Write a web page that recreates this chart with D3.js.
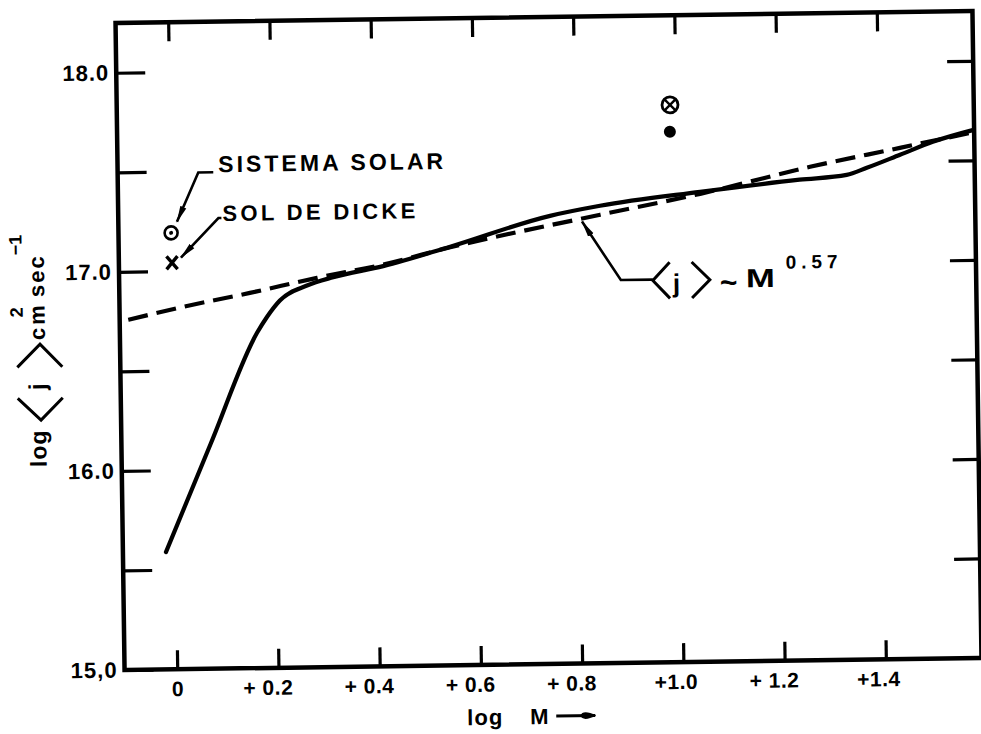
<!DOCTYPE html>
<html>
<head>
<meta charset="utf-8">
<script src="https://cdn.jsdelivr.net/npm/d3@7/dist/d3.min.js"></script>
<style>
  html, body { margin: 0; padding: 0; background: #fff; }
  svg { display: block; }
  text { font-family: "Liberation Sans", Arial, sans-serif; font-weight: 700; fill: #000; }
</style>
</head>
<body>
<svg id="chart" width="981" height="734"></svg>
<script>
// ---------------- data ----------------
const xDomain = [-0.104, 1.589];          // log M
const yDomain = [15, 18.25];              // log <j>
const xTicks = [0, 0.2, 0.4, 0.6, 0.8, 1.0, 1.2, 1.4];
const xTickLabels = ["0", "+ 0.2", "+ 0.4", "+ 0.6", "+ 0.8", "+1.0", "+ 1.2", "+1.4"];
const yTicks = [15, 15.5, 16, 16.5, 17, 17.5, 18];
const yTickLabels = ["15,0", "", "16.0", "", "17.0", "", "18.0"];

// solid curve (computed <j>)
const solidLogM = [-0.019, 0.073, 0.167, 0.187, 0.213, 0.267, 0.319, 0.418, 0.551, 0.749, 0.848, 1.046, 1.243, 1.336, 1.376, 1.442, 1.507, 1.588];
const solidLogJ = [15.589, 16.134, 16.684, 16.763, 16.845, 16.918, 16.958, 17.010, 17.103, 17.251, 17.298, 17.361, 17.415, 17.436, 17.470, 17.533, 17.596, 17.653];

// dashed curve  <j> ~ M^0.57
const dashLogM = [-0.087, 0.022, 0.154, 0.287, 0.418, 0.551, 0.848, 1.046, 1.264, 1.442, 1.582];
const dashLogJ = [16.758, 16.820, 16.885, 16.956, 17.018, 17.100, 17.253, 17.351, 17.479, 17.568, 17.639];

// individual points
const sunPoint   = { x: 0.000, y: 17.192 };   // Sistema Solar (⊙)
const dickePoint = { x: 0.001, y: 17.042 };   // Sol de Dicke (x)
const crossPoint = { x: 0.989, y: 17.800 };   // ⊗
const dotPoint   = { x: 0.988, y: 17.665 };   // ●
const powerLawArrowAt = { x: 0.81, y: 17.23 };

// ---------------- drawing ----------------
const svg = d3.select("#chart");
const g = svg.append("g").attr("transform", "rotate(-0.8,548,340)");

const x = d3.scaleLinear().domain(xDomain).range([120, 977]);
const y = d3.scaleLinear().domain(yDomain).range([664, 17]);

// arrow markers
const defs = svg.append("defs");
defs.append("marker").attr("id", "arr").attr("viewBox", "0 0 17 8")
  .attr("refX", 16).attr("refY", 4).attr("markerWidth", 17).attr("markerHeight", 8)
  .attr("markerUnits", "userSpaceOnUse").attr("orient", "auto")
  .append("path").attr("d", "M0,0.8 L17,4 L0,7.2 Z").attr("fill", "#000");
defs.append("marker").attr("id", "blob").attr("viewBox", "0 0 16 10")
  .attr("refX", 15).attr("refY", 5).attr("markerWidth", 16).attr("markerHeight", 10)
  .attr("markerUnits", "userSpaceOnUse").attr("orient", "auto")
  .append("path").attr("d", "M0,5 C2,0 8,1 16,5 C8,9 2,10 0,5 Z").attr("fill", "#000");

// axes
const fmtY = d => yTickLabels[yTicks.indexOf(d)] || "";
const fmtX = d => xTickLabels[xTicks.indexOf(d)] || "";

const axL = g.append("g").attr("transform", `translate(${x.range()[0]},0)`)
  .call(d3.axisLeft(y).tickValues(yTicks).tickSize(-29).tickPadding(7).tickFormat(fmtY));
const axR = g.append("g").attr("transform", `translate(${x.range()[1]},0)`)
  .call(d3.axisRight(y).tickValues(yTicks.slice(1)).tickSize(-26).tickFormat(""));
const axB = g.append("g").attr("transform", `translate(0,${y.range()[0]})`)
  .call(d3.axisBottom(x).tickValues(xTicks).tickSize(-19).tickPadding(12).tickFormat(fmtX));
const axT = g.append("g").attr("transform", `translate(0,${y.range()[1]})`)
  .call(d3.axisTop(x).tickValues(xTicks).tickSize(-19).tickFormat(""));

[axL, axR, axB, axT].forEach(a => {
  a.attr("font-family", null).attr("font-size", null);
  a.select(".domain").remove();
  a.selectAll(".tick line").attr("stroke", "#000").attr("stroke-width", 3.2);
});
axL.selectAll(".tick text").style("font-size", "22px").attr("letter-spacing", "1");
axB.selectAll(".tick text").style("font-size", "21px").attr("letter-spacing", "0.5")
  .attr("text-anchor", d => d === 0 ? "middle" : "end")
  .attr("dx", d => d === 0 ? 0 : 14);

// frame
g.append("rect")
  .attr("x", x.range()[0]).attr("y", y.range()[1])
  .attr("width", x.range()[1] - x.range()[0]).attr("height", y.range()[0] - y.range()[1])
  .attr("fill", "none").attr("stroke", "#000").attr("stroke-width", 4.5);

// curves
const line = d3.line().x(d => x(d[0])).y(d => y(d[1])).curve(d3.curveMonotoneX);
g.append("path").datum(solidLogM.map((m, i) => [m, solidLogJ[i]]))
  .attr("d", line).attr("fill", "none").attr("stroke", "#000")
  .attr("stroke-width", 4.2).attr("stroke-linecap", "round");

g.append("path").datum(dashLogM.map((m, i) => [m, dashLogJ[i]]))
  .attr("d", line).attr("fill", "none").attr("stroke", "#000")
  .attr("stroke-width", 4.2).attr("stroke-dasharray", "20,9");

// points
const sx = x(sunPoint.x), sy = y(sunPoint.y);
g.append("circle").attr("cx", sx).attr("cy", sy).attr("r", 6.5)
  .attr("fill", "none").attr("stroke", "#000").attr("stroke-width", 2.6);
g.append("circle").attr("cx", sx).attr("cy", sy).attr("r", 2).attr("fill", "#000");

const dx0 = x(dickePoint.x), dy0 = y(dickePoint.y);
g.append("path").attr("d", `M${dx0-5.5},${dy0-6.5}L${dx0+5.5},${dy0+6.5}M${dx0+5.5},${dy0-6.5}L${dx0-5.5},${dy0+6.5}`)
  .attr("stroke", "#000").attr("stroke-width", 3.4);

const cx0 = x(crossPoint.x), cy0 = y(crossPoint.y);
g.append("circle").attr("cx", cx0).attr("cy", cy0).attr("r", 8)
  .attr("fill", "none").attr("stroke", "#000").attr("stroke-width", 2.8);
g.append("path").attr("d", `M${cx0-5},${cy0-5}L${cx0+5},${cy0+5}M${cx0+5},${cy0-5}L${cx0-5},${cy0+5}`)
  .attr("stroke", "#000").attr("stroke-width", 2.4);

g.append("circle").attr("cx", x(dotPoint.x)).attr("cy", y(dotPoint.y)).attr("r", 6).attr("fill", "#000");

// annotations: Sistema Solar
g.append("path").attr("d", `M${sx+43},${sy-60}H${sx+28}L${sx+6},${sy-11}`)
  .attr("fill", "none").attr("stroke", "#000").attr("stroke-width", 2.6).attr("marker-end", "url(#arr)");
g.append("text").attr("x", sx + 48).attr("y", sy - 60).style("font-size", "23px")
  .attr("textLength", 225).attr("lengthAdjust", "spacing").text("SISTEMA SOLAR");

// Sol de Dicke
g.append("path").attr("d", `M${dx0+50},${dy0-44}H${dx0+47}L${dx0+9},${dy0-5}`)
  .attr("fill", "none").attr("stroke", "#000").attr("stroke-width", 2.6).attr("marker-end", "url(#arr)");
g.append("text").attr("x", dx0 + 51).attr("y", dy0 - 41).style("font-size", "22px")
  .attr("textLength", 193).attr("lengthAdjust", "spacing").text("SOL DE DICKE");

// <j> ~ M^0.57
const px = x(powerLawArrowAt.x), py = y(powerLawArrowAt.y);
g.append("path").attr("d", `M${px+71},${py+61}H${px+39}L${px+1},${py+2}`)
  .attr("fill", "none").attr("stroke", "#000").attr("stroke-width", 2.6).attr("marker-end", "url(#arr)");
g.append("path").attr("d", `M${px+88},${py+44}L${px+71},${py+62}L${px+88},${py+80}`)
  .attr("fill", "none").attr("stroke", "#000").attr("stroke-width", 3);
g.append("text").attr("x", px + 91).attr("y", py + 74).style("font-size", "26px").text("j");
g.append("path").attr("d", `M${px+110},${py+44}L${px+128},${py+62}L${px+110},${py+80}`)
  .attr("fill", "none").attr("stroke", "#000").attr("stroke-width", 3);
g.append("text").attr("x", px + 138).attr("y", py + 75).style("font-size", "30px").text("~");
g.append("text").attr("x", px + 164).attr("y", py + 70).style("font-size", "26px")
  .attr("textLength", 29).attr("lengthAdjust", "spacingAndGlyphs").text("M");
g.append("text").attr("x", px + 204).attr("y", py + 52).style("font-size", "19px")
  .attr("textLength", 52).attr("lengthAdjust", "spacing").text("0.57");

// x axis label
g.append("text").attr("x", 462).attr("y", 724).style("font-size", "22px").attr("letter-spacing", "1").text("log");
g.append("text").attr("x", 525).attr("y", 724).style("font-size", "22px").text("M");
g.append("path").attr("d", "M551,716H590").attr("stroke", "#000").attr("stroke-width", 3)
  .attr("marker-end", "url(#blob)");

// y axis label (rotated)
const yl = g.append("g").attr("transform", "translate(45,460) rotate(-90)");
yl.append("text").attr("x", 0).attr("y", 0).style("font-size", "23px").attr("letter-spacing", "1").text("log");
yl.append("path").attr("d", "M69,-28L47,-5L69,17").attr("fill", "none").attr("stroke", "#000").attr("stroke-width", 3);
yl.append("text").attr("x", 77).attr("y", 0).style("font-size", "24px").text("j");
yl.append("path").attr("d", "M100,-28L123,-5L100,17").attr("fill", "none").attr("stroke", "#000").attr("stroke-width", 3);
yl.append("text").attr("x", 127).attr("y", 0).style("font-size", "22px").attr("letter-spacing", "3").text("cm");
yl.append("text").attr("x", 150).attr("y", -22).style("font-size", "18px").text("2");
yl.append("text").attr("x", 170).attr("y", 0).style("font-size", "22px").attr("letter-spacing", "2").text("sec");
yl.append("text").attr("x", 212).attr("y", -22).style("font-size", "18px").text("−1");
</script>
</body>
</html>
